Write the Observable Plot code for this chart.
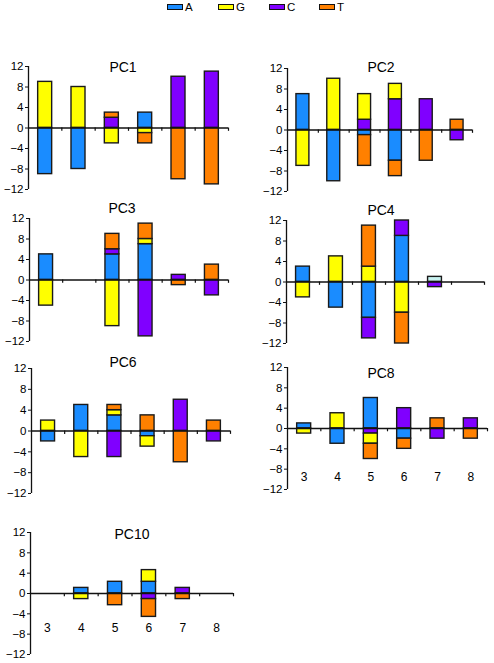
<!DOCTYPE html>
<html><head><meta charset="utf-8">
<script src="https://cdn.jsdelivr.net/npm/d3@7"></script>
<script src="https://cdn.jsdelivr.net/npm/@observablehq/plot@0.6"></script>
<style>
body{margin:0;background:#fff;font-family:"Liberation Sans",Arial,sans-serif;color:#000}
#root{position:relative;width:494px;height:663px;overflow:hidden}
.panel{position:absolute}
.title{position:absolute;font-size:14px;line-height:14px;transform:translateX(-50%);white-space:nowrap}
.leg{position:absolute;font-size:11.5px;line-height:12px;display:flex;align-items:center}
.sw{display:inline-block;width:14px;height:4px;border:1px solid #111;margin-right:2px}
</style></head><body><div id="root"></div>
<script>
// ---- data ----
const bases = ["A", "G", "C", "T"];
const baseColors = ["#1a8cff", "#ffff00", "#8000ff", "#ff8000"];
const faintKey = "A (faint)";
const faintColor = "#c8f2f0";
const positions = [3, 4, 5, 6, 7, 8];
const yTicks = [-12, -8, -4, 0, 4, 8, 12];

// segments: [position, base, value] — stacked outward from zero in listed order
const pc1 = [[3,"G",9],[3,"A",-9],[4,"G",8],[4,"A",-8],[5,"C",2],[5,"T",1],[5,"G",-3],
  [6,"A",3],[6,"G",-1],[6,"T",-2],[7,"C",10],[7,"T",-10],[8,"C",11],[8,"T",-11]];
const pc2 = [[3,"A",7],[3,"G",-7],[4,"G",10],[4,"A",-10],[5,"C",2],[5,"G",5],[5,"A",-1],[5,"T",-6],
  [6,"C",6],[6,"G",3],[6,"A",-6],[6,"T",-3],[7,"C",6],[7,"T",-6],[8,"T",2],[8,"C",-2]];
const pc3 = [[3,"A",5],[3,"G",-5],[5,"A",5],[5,"C",1],[5,"T",3],[5,"G",-9],
  [6,"A",7],[6,"G",1],[6,"T",3],[6,"C",-11],[7,"C",1],[7,"T",-1],[8,"T",3],[8,"C",-3]];
const pc4 = [[3,"A",3],[3,"G",-3],[4,"G",5],[4,"A",-5],[5,"G",3],[5,"T",8],[5,"A",-7],[5,"C",-4],
  [6,"A",9],[6,"C",3],[6,"G",-6],[6,"T",-6],[7,faintKey,1],[7,"C",-1]];
const pc6 = [[3,"G",2],[3,"A",-2],[4,"A",5],[4,"G",-5],[5,"A",3],[5,"G",1],[5,"T",1],[5,"C",-5],
  [6,"T",3],[6,"A",-1],[6,"G",-2],[7,"C",6],[7,"T",-6],[8,"T",2],[8,"C",-2]];
const pc8 = [[3,"A",1],[3,"G",-1],[4,"G",3],[4,"A",-3],[5,"A",6],[5,"C",-1],[5,"G",-2],[5,"T",-3],
  [6,"C",4],[6,"A",-2],[6,"T",-2],[7,"T",2],[7,"C",-2],[8,"C",2],[8,"T",-2]];
const pc10 = [[4,"A",1.1],[4,"G",-1.1],[5,"A",2.3],[5,"T",-2.3],[6,"A",2.3],[6,"G",2.3],[6,"C",-1.1],[6,"T",-3.5],
  [7,"C",1.1],[7,"T",-1.1]];

// ---- layout (page pixels): y-axis x, x-axis end, y of +12, y of -12, title centre/baseline, category label offset ----
const panels = [
  {name:"PC1",  data:pc1,  ax:28,  xe:228, yTop:66,  yBot:189, tx:123, ty:72},
  {name:"PC2",  data:pc2,  ax:287, xe:472, yTop:68,  yBot:191, tx:381, ty:72},
  {name:"PC3",  data:pc3,  ax:29,  xe:228, yTop:218, yBot:341, tx:122, ty:213},
  {name:"PC4",  data:pc4,  ax:286, xe:484, yTop:220, yBot:343, tx:381, ty:215},
  {name:"PC6",  data:pc6,  ax:31,  xe:230, yTop:368, yBot:493, tx:123, ty:367},
  {name:"PC8",  data:pc8,  ax:287, xe:487, yTop:367, yBot:489, tx:381, ty:378, labelDy:49},
  {name:"PC10", data:pc10, ax:30,  xe:233, yTop:532, yBot:654, tx:132, ty:539, labelDy:35}
];

const root = document.getElementById("root");
const half = 0.21;
const bounds = positions.map(p => p + 0.5);

for (const p of panels) {
  const mL = 30, mR = 6, mT = 6, mB = 6;
  const rows = p.data.map(([pos, base, value]) => ({pos, base, value}));
  const marks = [
    Plot.rectY(rows, Plot.stackY({
      x1: d => d.pos - half, x2: d => d.pos + half, y: "value",
      fill: "base", stroke: "#1a1a1a", strokeWidth: 1.4
    })),
    Plot.ruleX([2.5], {stroke: "#111", strokeWidth: 1.3}),
    Plot.ruleY([0], {stroke: "#111", strokeWidth: 1.4}),
    Plot.ruleX(bounds, {y1: 0, y2: -0.65, stroke: "#111", strokeWidth: 1.2}),
    Plot.axisY({ticks: yTicks, tickSize: 3, tickPadding: 2, fontSize: 11.5, label: null, stroke: "#111"})
  ];
  if (p.labelDy) {
    marks.push(Plot.text(positions, {x: d => d, y: 0, dy: p.labelDy, text: d => String(d), fontSize: 12, fill: "#000"}));
  }
  const chart = Plot.plot({
    width: (p.xe - p.ax) + mL + mR,
    height: (p.yBot - p.yTop) + mT + mB,
    marginLeft: mL, marginRight: mR, marginTop: mT, marginBottom: mB,
    style: {fontFamily: '"Liberation Sans", Arial, sans-serif', color: "#000", background: "transparent", overflow: "visible"},
    x: {type: "linear", domain: [2.5, 8.5], axis: null},
    y: {domain: [-12, 12]},
    color: {domain: [...bases, faintKey], range: [...baseColors, faintColor]},
    marks
  });
  const wrap = document.createElement("div");
  wrap.className = "panel";
  wrap.style.left = (p.ax - mL) + "px";
  wrap.style.top = (p.yTop - mT) + "px";
  wrap.appendChild(chart);
  root.appendChild(wrap);

  const t = document.createElement("div");
  t.className = "title";
  t.textContent = p.name;
  t.style.left = p.tx + "px";
  t.style.top = (p.ty - 12) + "px";
  root.appendChild(t);
}

// legend
const legX = [167, 218, 269, 319];
bases.forEach((b, i) => {
  const el = document.createElement("div");
  el.className = "leg";
  el.style.left = legX[i] + "px";
  el.style.top = "1px";
  const sw = document.createElement("span");
  sw.className = "sw";
  sw.style.background = baseColors[i];
  el.appendChild(sw);
  el.appendChild(document.createTextNode(b));
  root.appendChild(el);
});
</script>
</body></html>
